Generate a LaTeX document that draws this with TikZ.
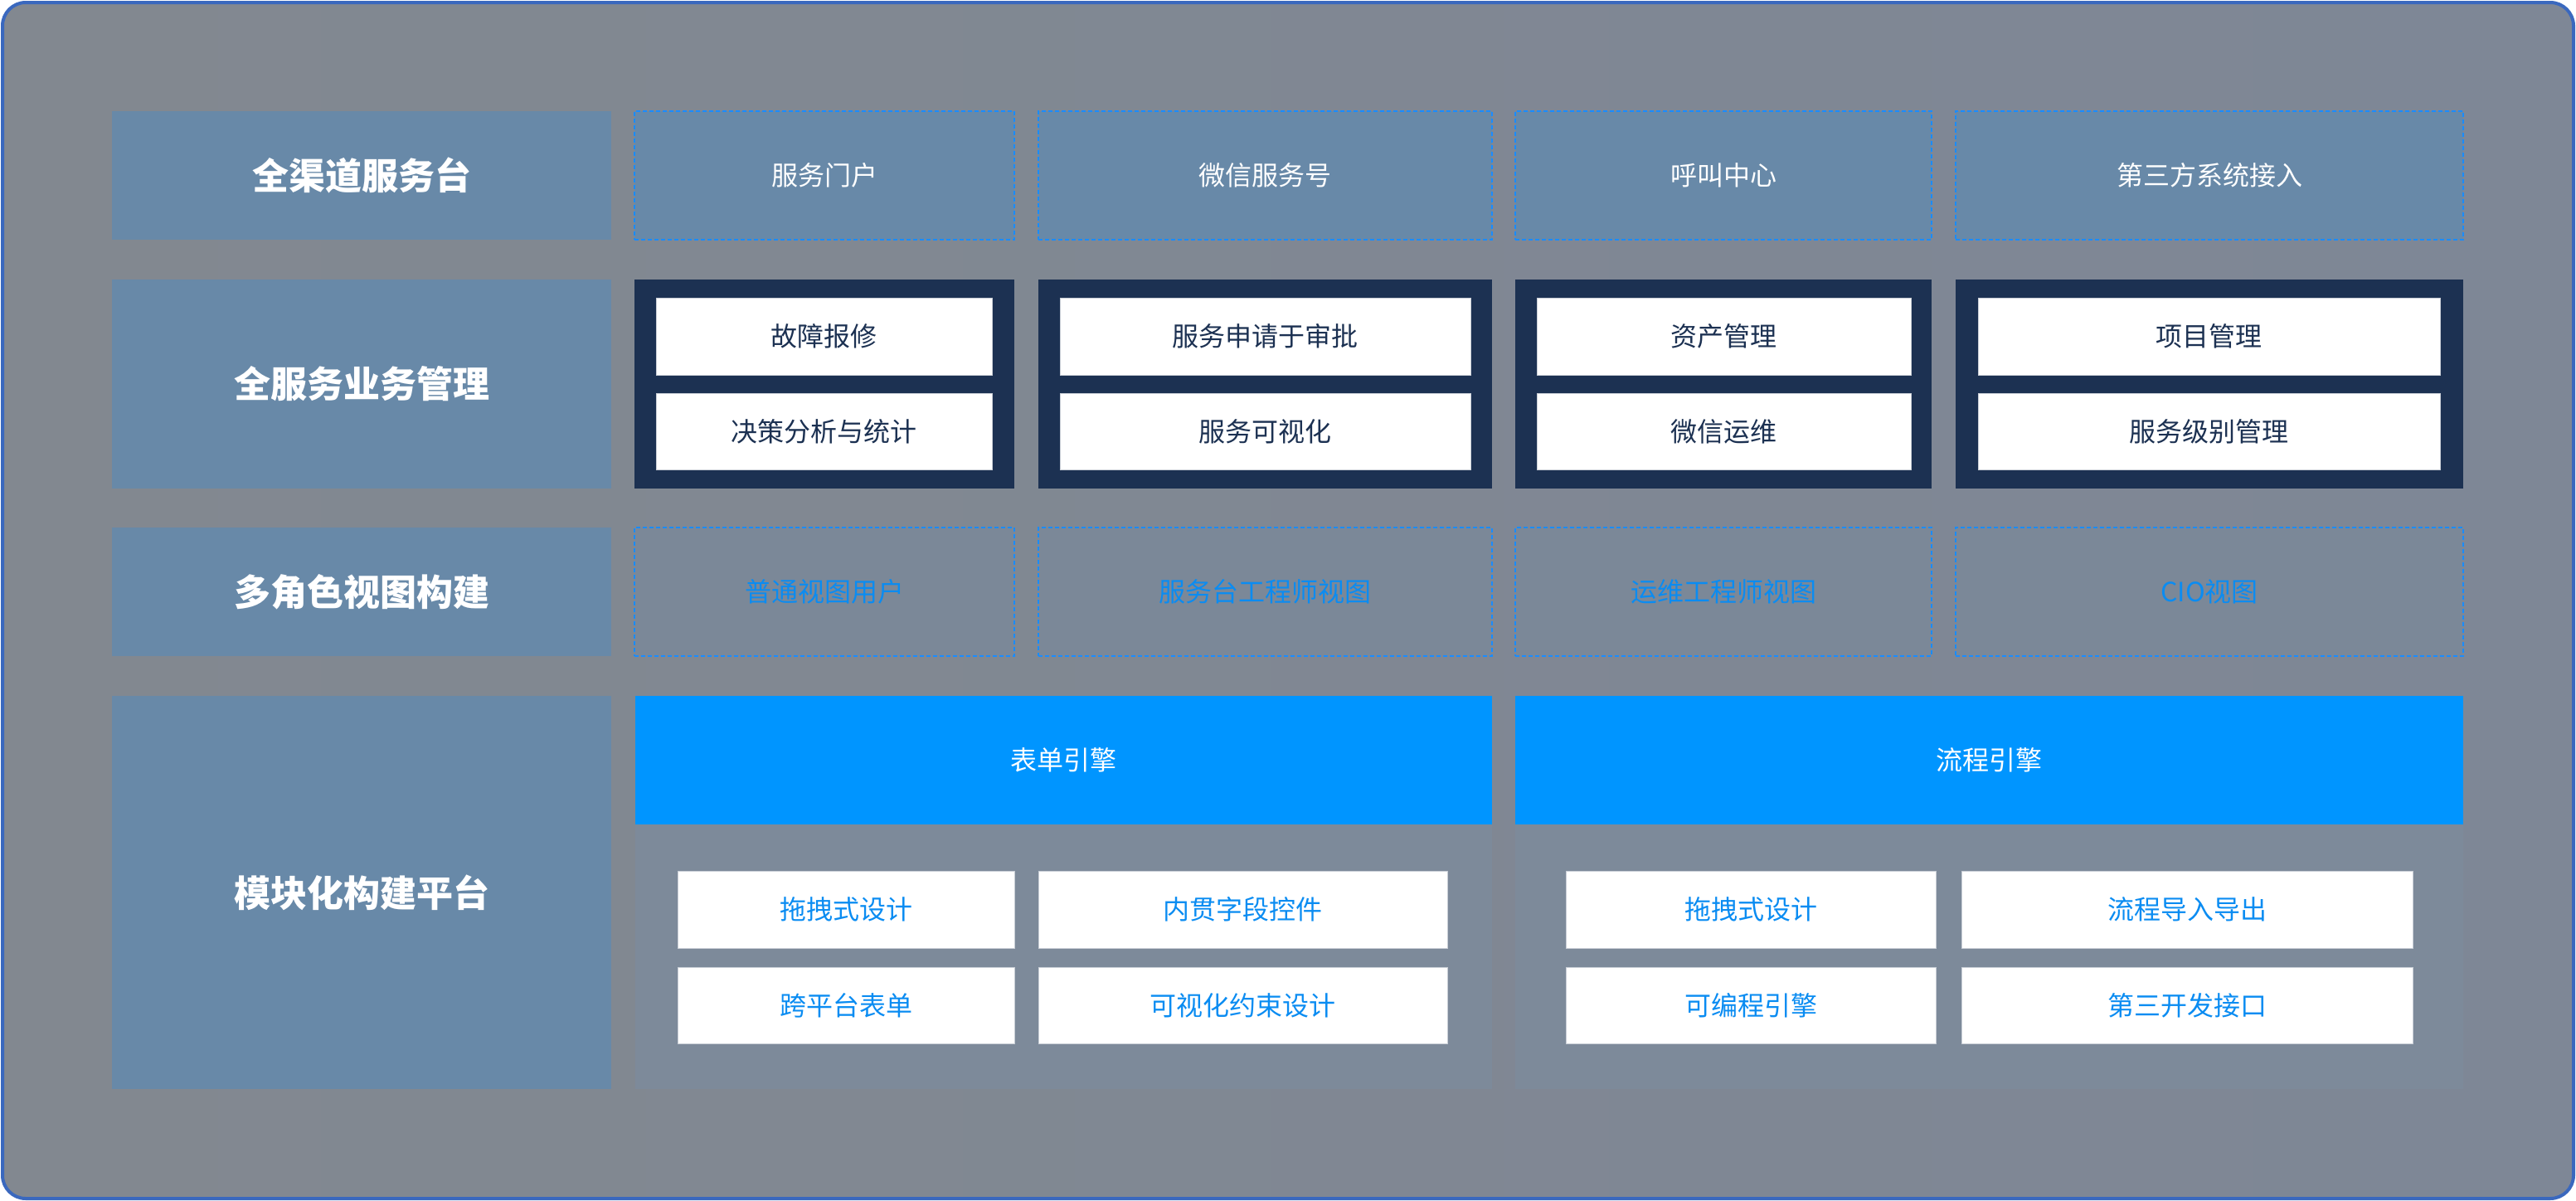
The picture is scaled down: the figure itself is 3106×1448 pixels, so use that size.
\documentclass[tikz,border=0pt]{standalone}
\usepackage{fontspec}
\setmainfont{Noto Sans CJK SC}
\definecolor{bgA}{HTML}{828890}
\definecolor{bgB}{HTML}{7E8796}
\definecolor{outline}{HTML}{3A68BE}
\definecolor{lab}{HTML}{6889A8}
\definecolor{navy}{HTML}{1C3152}
\definecolor{brite}{HTML}{0095FF}
\definecolor{dashc}{HTML}{1A8CFF}
\definecolor{txtblue}{HTML}{0A8CF2}
\definecolor{panel}{HTML}{7D8A9A}
\definecolor{viewfill}{HTML}{7B8898}
\definecolor{wline}{HTML}{C9CED6}
\tikzset{
  box/.style={rectangle, inner sep=0pt, outer sep=0pt, align=center},
  labbox/.style={box, fill=lab, text=white, font=\fontsize{44}{50}\selectfont\bfseries},
  chanbox/.style={box, fill=lab, draw=dashc, line width=2pt, dash pattern=on 5pt off 3pt, text=white, font=\fontsize{32}{38}\selectfont},
  viewbox/.style={box, fill=viewfill, draw=dashc, line width=2pt, dash pattern=on 5pt off 3pt, text=txtblue, font=\fontsize{32}{38}\selectfont},
  navybox/.style={box, fill=navy},
  wbox/.style={box, fill=white, draw=wline, line width=1pt, text=navy, font=\fontsize{32}{38}\selectfont},
  wboxb/.style={box, fill=white, draw=wline, line width=1pt, text=txtblue, font=\fontsize{32}{38}\selectfont},
  engbox/.style={box, fill=brite, text=white, font=\fontsize{32}{38}\selectfont},
  panelbox/.style={box, fill=panel},
}
\begin{document}
\begin{tikzpicture}[x=1pt,y=-1pt]
\useasboundingbox (0,0) rectangle (3106,1448);
\fill[white] (0,0) rectangle (3106,1448);
\shade[left color=bgA, right color=bgB, draw=outline, line width=4pt, rounded corners=28pt] (3,3) rectangle (3103,1445);

% row labels
\node[labbox, minimum width=602pt, minimum height=155pt] (l1) at (436,211.5) {全渠道服务台};
\node[labbox, minimum width=602pt, minimum height=252pt] (l2) at (436,463) {全服务业务管理};
\node[labbox, minimum width=602pt, minimum height=155pt] (l3) at (436,713.5) {多角色视图构建};
\node[labbox, minimum width=602pt, minimum height=474pt] (l4) at (436,1076) {模块化构建平台};

% row 1: channels
\node[chanbox, minimum width=458pt, minimum height=155pt] (c1) at (994,211.5) {服务门户};
\node[chanbox, minimum width=547pt, minimum height=155pt] (c2) at (1525.5,211.5) {微信服务号};
\node[chanbox, minimum width=502pt, minimum height=155pt] (c3) at (2078,211.5) {呼叫中心};
\node[chanbox, minimum width=612pt, minimum height=155pt] (c4) at (2664,211.5) {第三方系统接入};

% row 2: business management
\node[navybox, minimum width=458pt, minimum height=252pt] (b1) at (994,463) {};
\node[navybox, minimum width=547pt, minimum height=252pt] (b2) at (1525.5,463) {};
\node[navybox, minimum width=502pt, minimum height=252pt] (b3) at (2078,463) {};
\node[navybox, minimum width=612pt, minimum height=252pt] (b4) at (2664,463) {};
\node[wbox, minimum width=405pt, minimum height=93pt] (b1a) at (993.5,405.5) {故障报修};
\node[wbox, minimum width=405pt, minimum height=92pt] (b1b) at (993.5,520) {决策分析与统计};
\node[wbox, minimum width=495pt, minimum height=93pt] (b2a) at (1525.5,405.5) {服务申请于审批};
\node[wbox, minimum width=495pt, minimum height=92pt] (b2b) at (1525.5,520) {服务可视化};
\node[wbox, minimum width=451pt, minimum height=93pt] (b3a) at (2078.5,405.5) {资产管理};
\node[wbox, minimum width=451pt, minimum height=92pt] (b3b) at (2078.5,520) {微信运维};
\node[wbox, minimum width=557pt, minimum height=93pt] (b4a) at (2663.5,405.5) {项目管理};
\node[wbox, minimum width=557pt, minimum height=92pt] (b4b) at (2663.5,520) {服务级别管理};

% row 3: views
\node[viewbox, minimum width=458pt, minimum height=155pt] (v1) at (994,713.5) {普通视图用户};
\node[viewbox, minimum width=547pt, minimum height=155pt] (v2) at (1525.5,713.5) {服务台工程师视图};
\node[viewbox, minimum width=502pt, minimum height=155pt] (v3) at (2078,713.5) {运维工程师视图};
\node[viewbox, minimum width=612pt, minimum height=155pt] (v4) at (2664,713.5) {CIO视图};

% row 4: engines
\node[panelbox, minimum width=1033pt, minimum height=319pt] (p1) at (1282.5,1153.5) {};
\node[panelbox, minimum width=1143pt, minimum height=319pt] (p2) at (2398.5,1153.5) {};
\node[engbox, minimum width=1033pt, minimum height=155pt] (e1) at (1282.5,916.5) {表单引擎};
\node[engbox, minimum width=1143pt, minimum height=155pt] (e2) at (2398.5,916.5) {流程引擎};
\node[wboxb, minimum width=406pt, minimum height=93pt] (f1) at (1020,1096.5) {拖拽式设计};
\node[wboxb, minimum width=493pt, minimum height=93pt] (f2) at (1498.5,1096.5) {内贯字段控件};
\node[wboxb, minimum width=406pt, minimum height=92pt] (f3) at (1020,1212) {跨平台表单};
\node[wboxb, minimum width=493pt, minimum height=92pt] (f4) at (1498.5,1212) {可视化约束设计};
\node[wboxb, minimum width=446pt, minimum height=93pt] (g1) at (2111,1096.5) {拖拽式设计};
\node[wboxb, minimum width=544pt, minimum height=93pt] (g2) at (2637,1096.5) {流程导入导出};
\node[wboxb, minimum width=446pt, minimum height=92pt] (g3) at (2111,1212) {可编程引擎};
\node[wboxb, minimum width=544pt, minimum height=92pt] (g4) at (2637,1212) {第三开发接口};
\end{tikzpicture}
\end{document}
